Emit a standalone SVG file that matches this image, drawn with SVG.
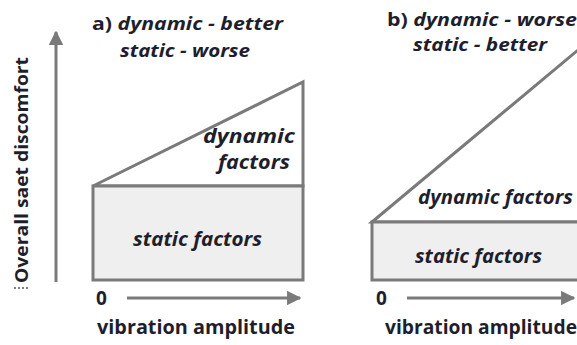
<svg xmlns="http://www.w3.org/2000/svg" width="577" height="345" viewBox="0 0 577 345">
<style>
.t{font-family:"Open Sans","Noto Sans","Liberation Sans",sans-serif;font-weight:bold;font-size:19px;fill:#1e1e2c}
.y{font-size:17px}
.s{font-size:18px}
.i{font-style:italic}
.sh{stroke:#7a7a7a;stroke-width:3;stroke-linejoin:miter}
.ax{stroke:#7a7a7a;stroke-width:3;fill:none}
</style>
<defs>
<marker id="ah" viewBox="0 0 10 10" refX="9" refY="5" markerWidth="4.8" markerHeight="4.8" markerUnits="strokeWidth" orient="auto">
<path d="M0,0 L10,5 L0,10 Z" fill="#7a7a7a"/>
</marker>
</defs>
<rect width="577" height="345" fill="#ffffff"/>

<g id="connectors">
<line class="ax" x1="56" y1="282" x2="56" y2="32" marker-end="url(#ah)"/>
<line class="ax" x1="127" y1="298" x2="300" y2="298" marker-end="url(#ah)"/>
<line class="ax" x1="407" y1="298" x2="574" y2="298" marker-end="url(#ah)"/>
</g>

<g id="y-label">
<text class="t y" transform="translate(28,283) rotate(-90)" textLength="226" lengthAdjust="spacingAndGlyphs">Overall saet discomfort</text>
<line x1="14" y1="288" x2="28" y2="288" stroke="#555" stroke-width="1.5" stroke-dasharray="2,2"/>
</g>

<g id="panel-a">
<text class="t s" x="92" y="30" textLength="191" lengthAdjust="spacingAndGlyphs">a) <tspan class="i">dynamic - better</tspan></text>
<text class="t i s" x="120" y="57" textLength="130" lengthAdjust="spacingAndGlyphs">static - worse</text>
<g id="a-dynamic">
<polygon class="sh" points="93,186 303,82 303,186" fill="#ffffff"/>
<text class="t i" x="203" y="143" textLength="92" lengthAdjust="spacingAndGlyphs">dynamic</text>
<text class="t i" x="218" y="169" textLength="72" lengthAdjust="spacingAndGlyphs">factors</text>
</g>
<g id="a-static">
<rect class="sh" x="93" y="186" width="210" height="94" fill="#efefef"/>
<text class="t i" x="133" y="246" textLength="129" lengthAdjust="spacingAndGlyphs">static factors</text>
</g>
<text class="t" x="96" y="305">0</text>
<text class="t" x="97" y="334" textLength="198" lengthAdjust="spacingAndGlyphs">vibration amplitude</text>
</g>

<g id="panel-b">
<text class="t s" x="387" y="26" textLength="190" lengthAdjust="spacingAndGlyphs">b) <tspan class="i">dynamic - worse</tspan></text>
<text class="t i s" x="413" y="51" textLength="134" lengthAdjust="spacingAndGlyphs">static - better</text>
<g id="b-dynamic">
<polygon class="sh" points="372,222 590,40 590,222" fill="#ffffff"/>
<text class="t i" x="418" y="204" textLength="155" lengthAdjust="spacingAndGlyphs">dynamic factors</text>
</g>
<g id="b-static">
<rect class="sh" x="372" y="222" width="220" height="58" fill="#efefef"/>
<text class="t i" x="415" y="263" textLength="127" lengthAdjust="spacingAndGlyphs">static factors</text>
</g>
<text class="t" x="376" y="305">0</text>
<text class="t" x="385" y="334" textLength="192" lengthAdjust="spacingAndGlyphs">vibration amplitude</text>
</g>
</svg>
